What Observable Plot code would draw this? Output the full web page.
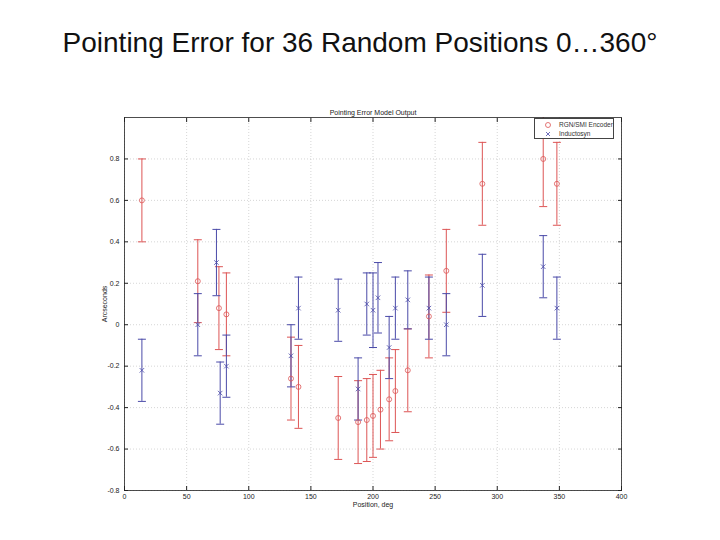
<!DOCTYPE html>
<html>
<head>
<meta charset="utf-8">
<script src="https://cdn.jsdelivr.net/npm/d3@7"></script>
<script src="https://cdn.jsdelivr.net/npm/@observablehq/plot@0.6"></script>
<style>
  html, body { margin: 0; padding: 0; background: #fff; }
  #wrap { position: relative; width: 720px; height: 540px; overflow: hidden; font-family: "Liberation Sans", Arial, sans-serif; }
  #title { height: 90px; box-sizing: border-box; padding-top: 27px; text-align: center; font-size: 28px; color: #111; white-space: nowrap; }
  #legend { position: absolute; left: 534px; top: 118px; width: 80px; height: 21px; box-sizing: border-box; border: 1px solid #444; background: #fff; font-size: 6.5px; color: #333; }
  #legend .row { position: absolute; left: 0; height: 9px; line-height: 9px; width: 100%; white-space: nowrap; }
  #legend svg { position: absolute; left: 9px; top: 1px; }
  #legend span { position: absolute; left: 24px; white-space: nowrap; }
</style>
</head>
<body>
<div id="wrap">
  <div id="title">Pointing Error for 36 Random Positions 0…360°</div>
  <div id="chart"></div>
  <div id="legend">
    <div class="row" style="top:1px"><svg width="8" height="8"><circle cx="4" cy="4" r="2.5" fill="none" stroke="#dd5555" stroke-width="0.8"/></svg><span>RGN/SMI Encoder</span></div>
    <div class="row" style="top:10px"><svg width="8" height="8"><path d="M2,2L6,6M6,2L2,6" stroke="#4a4aa8" stroke-width="0.8"/></svg><span>Inductosyn</span></div>
  </div>
</div>
<script>
// RGN/SMI Encoder (red circles)
const redX   = [14, 59, 76, 82, 134, 140, 172, 188, 195, 200, 206, 213, 218, 228, 245, 259, 288, 337, 348];
const redY   = [0.60, 0.21, 0.08, 0.05, -0.26, -0.30, -0.45, -0.47, -0.46, -0.44, -0.41, -0.36, -0.32, -0.22, 0.04, 0.26, 0.68, 0.80, 0.68];
const redErr = [0.20, 0.20, 0.20, 0.20, 0.20, 0.20, 0.20, 0.20, 0.20, 0.20, 0.19, 0.20, 0.20, 0.20, 0.20, 0.20, 0.20, 0.23, 0.20];
// Inductosyn (blue x)
const blueX   = [14, 59, 74, 77, 82, 134, 140, 172, 188, 195, 200, 204, 213, 218, 228, 245, 259, 288, 337, 348];
const blueY   = [-0.22, 0.00, 0.30, -0.33, -0.20, -0.15, 0.08, 0.07, -0.31, 0.10, 0.07, 0.13, -0.11, 0.08, 0.12, 0.08, 0.00, 0.19, 0.28, 0.08];
const blueErr = [0.15, 0.15, 0.16, 0.15, 0.15, 0.15, 0.15, 0.15, 0.15, 0.15, 0.18, 0.17, 0.15, 0.15, 0.14, 0.15, 0.15, 0.15, 0.15, 0.15];
// ticks
const xTicks = [0, 50, 100, 150, 200, 250, 300, 350, 400];
const yTicks = [-0.8, -0.6, -0.4, -0.2, 0, 0.2, 0.4, 0.6, 0.8];

const RED = "#dd5555", BLUE = "#4a4aa8";
const red = redX.map((x, i) => ({x, y: redY[i], lo: redY[i] - redErr[i], hi: redY[i] + redErr[i]}));
const blue = blueX.map((x, i) => ({x, y: blueY[i], lo: blueY[i] - blueErr[i], hi: blueY[i] + blueErr[i]}));

const cap = { draw(ctx, size) { const r = Math.sqrt(size / Math.PI); ctx.moveTo(-r, 0); ctx.lineTo(r, 0); } };

const fmt = d => d === 0 ? "0" : String(d);

const chart = Plot.plot({
  width: 720, height: 450,
  marginTop: 27, marginBottom: 50, marginLeft: 124, marginRight: 99,
  style: { fontFamily: "Liberation Sans, Arial, sans-serif", fontSize: "7px", color: "#222", background: "#fff" },
  x: { domain: [0, 400] },
  y: { domain: [-0.8, 1.0] },
  marks: [
    Plot.gridX(xTicks, { stroke: "#bbb", strokeOpacity: 1, strokeDasharray: "1,2", strokeWidth: 0.6 }),
    Plot.gridY(yTicks, { stroke: "#bbb", strokeOpacity: 1, strokeDasharray: "1,2", strokeWidth: 0.6 }),
    // error bars
    Plot.ruleX(red, { x: "x", y1: "lo", y2: "hi", stroke: RED, strokeWidth: 1, clip: true }),
    Plot.dot(red, { x: "x", y: "hi", symbol: cap, r: 4, stroke: RED, fill: "none", strokeWidth: 1, clip: true }),
    Plot.dot(red, { x: "x", y: "lo", symbol: cap, r: 4, stroke: RED, fill: "none", strokeWidth: 1, clip: true }),
    Plot.ruleX(blue, { x: "x", y1: "lo", y2: "hi", stroke: BLUE, strokeWidth: 1, clip: true }),
    Plot.dot(blue, { x: "x", y: "hi", symbol: cap, r: 4, stroke: BLUE, fill: "none", strokeWidth: 1, clip: true }),
    Plot.dot(blue, { x: "x", y: "lo", symbol: cap, r: 4, stroke: BLUE, fill: "none", strokeWidth: 1, clip: true }),
    // markers
    Plot.dot(red, { x: "x", y: "y", r: 2.5, stroke: RED, fill: "none", strokeWidth: 0.8 }),
    Plot.dot(blue, { x: "x", y: "y", symbol: "times", r: 2.2, stroke: BLUE, strokeWidth: 0.8 }),
    // axes
    Plot.axisX({ ticks: xTicks, tickSize: -4, tickPadding: 8, tickFormat: fmt, label: "Position, deg", labelAnchor: "center", labelArrow: "none", labelOffset: 16, stroke: "#222" }),
    Plot.axisX({ anchor: "top", ticks: xTicks, tickSize: -4, tickFormat: () => "", label: null, stroke: "#222" }),
    Plot.axisY({ ticks: yTicks, tickSize: -4, tickPadding: 9, tickFormat: fmt, label: "Arcseconds", labelAnchor: "center", labelArrow: "none", labelOffset: 22, stroke: "#222" }),
    Plot.axisY({ anchor: "right", ticks: yTicks, tickSize: -4, tickFormat: () => "", label: null, stroke: "#222" }),
    Plot.frame({ stroke: "#222", strokeWidth: 0.8 }),
    Plot.text(["Pointing Error Model Output"], { frameAnchor: "top", dy: -7, fontSize: 7, fill: "#222" })
  ]
});
document.getElementById("chart").appendChild(chart);
</script>
</body>
</html>
